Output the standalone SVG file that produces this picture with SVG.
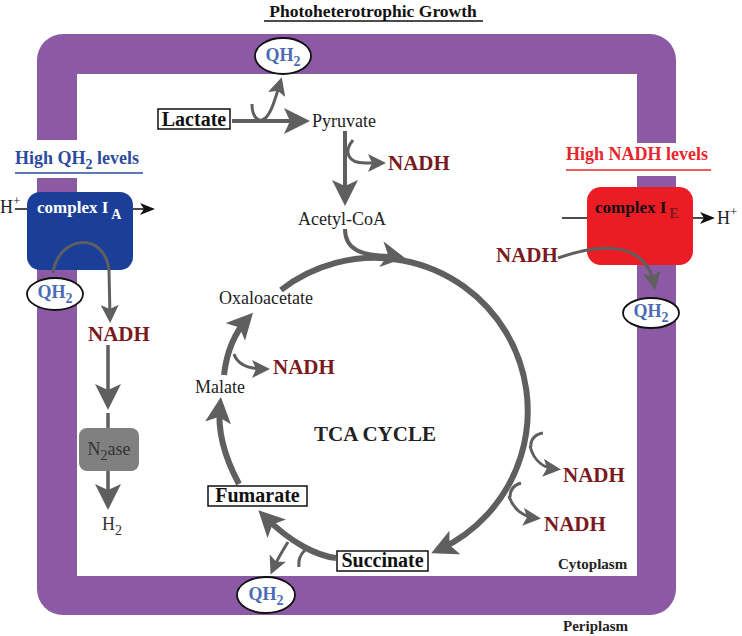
<svg xmlns="http://www.w3.org/2000/svg" width="742" height="636" viewBox="0 0 742 636">
<style>
.t{font-family:"Liberation Serif","Times New Roman",serif}
.b{font-weight:bold}
.nadh{fill:#7a1a1e;font-weight:bold;font-size:21px}
.qh{fill:#4a6cb3;font-weight:bold;font-size:18px}
.met{font-size:18px;fill:#222}
.g{stroke:#5f5f5f;fill:none}
.k{stroke:#111;fill:none;stroke-width:1.5}
.ell{fill:#fff;stroke:#111;stroke-width:1.8}
.box{fill:#fff;stroke:#111;stroke-width:1.5}
</style>
<defs>
<marker id="ah" markerUnits="userSpaceOnUse" markerWidth="26" markerHeight="26" viewBox="0 0 26 26" refX="18" refY="13" orient="auto"><path d="M0,0 L26,13 L0,26 L6,13 Z" fill="#5f5f5f"/></marker>
<marker id="am" markerUnits="userSpaceOnUse" markerWidth="18" markerHeight="18" viewBox="0 0 18 18" refX="12" refY="9" orient="auto"><path d="M0,0 L18,9 L0,18 L4,9 Z" fill="#5f5f5f"/></marker>
<marker id="ak" markerUnits="userSpaceOnUse" markerWidth="15" markerHeight="12" viewBox="0 0 15 12" refX="10" refY="6" orient="auto"><path d="M0,0 L15,6 L0,12 L4,6 Z" fill="#111"/></marker>
</defs>
<rect width="742" height="636" fill="#fff"/>

<g id="membrane">
<path d="M63,34 H650 A26,26 0 0 1 676,60 V589 A26,26 0 0 1 650,615 H63 A26,26 0 0 1 37,589 V60 A26,26 0 0 1 63,34 Z M77,74 V576 H637 V74 Z" fill="#8c5aa5" fill-rule="evenodd"/>
<rect x="35" y="140" width="44" height="38" fill="#fff"/>
<rect x="635" y="143" width="44" height="33" fill="#fff"/>
</g>

<g id="title" class="t b">
<text x="373" y="16.5" text-anchor="middle" font-size="17.5" fill="#111">Photoheterotrophic Growth</text>
<line x1="264" y1="21" x2="483" y2="21" stroke="#111" stroke-width="1.5"/>
</g>

<g id="label-high-qh2" class="t b">
<text x="15" y="164" font-size="18" fill="#2d4b9e">High QH<tspan dy="5" font-size="14">2</tspan><tspan dy="-5"> levels</tspan></text>
<line x1="15" y1="173" x2="143" y2="173" stroke="#2d4b9e" stroke-width="1.5"/>
</g>
<g id="label-high-nadh" class="t b">
<text x="566" y="160" font-size="18" fill="#e8262b">High NADH levels</text>
<line x1="566" y1="170" x2="711" y2="170" stroke="#e8262b" stroke-width="1.5"/>
</g>

<g id="complexIA">
<rect x="27" y="192" width="106" height="78" rx="13" fill="#1b3f99"/>
<text class="t b" x="37" y="213" font-size="17" fill="#fff">complex I<tspan dx="3" dy="6" font-size="14">A</tspan></text>
</g>
<g id="complexIE">
<rect x="587" y="187" width="106" height="78" rx="14" fill="#ec1c24"/>
<text class="t b" x="595" y="213" font-size="17" fill="#111">complex I<tspan dx="3" dy="5" font-size="14" fill="#7a1a1e">E</tspan></text>
</g>
<g id="n2ase">
<rect x="79" y="428" width="60" height="43" rx="8" fill="#808080"/>
<text class="t" x="109" y="455" text-anchor="middle" font-size="18" fill="#333">N<tspan dy="5" font-size="14">2</tspan><tspan dy="-5">ase</tspan></text>
</g>

<g id="connectors">
<path class="k" d="M15,209 L27,209"/>
<path class="k" d="M133,209 L150,209" marker-end="url(#ak)"/>
<path class="k" d="M562,218 L587,218"/>
<path class="k" d="M693,218 L710,218" marker-end="url(#ak)"/>
<path class="g" stroke-width="4" d="M232,121 L302,121" marker-end="url(#ah)"/>
<path class="g" stroke-width="3" d="M252,104 C252,116 257,121 262,120 C270,118 275,100 280,83" marker-end="url(#am)"/>
<path class="g" stroke-width="4" d="M345,131 L345,198" marker-end="url(#ah)"/>
<path class="g" stroke-width="3" d="M353,140 C343,152 348,163 365,163 L380,163" marker-end="url(#am)"/>
<path class="g" stroke-width="4" d="M345,229 C345,250 362,256 390,256"/>
<path class="g" stroke-width="6" d="M281,290 A153,153 0 1 1 438.5,550" marker-end="url(#ah)"/>
<path d="M405,258 L383.4,241.3 L388.2,255.2 L379.2,266.9 Z" fill="#5f5f5f"/>
<path class="g" stroke-width="3" d="M543,433 C535,434 530,440 531,447"/>
<path class="g" stroke-width="3" d="M530,446 C534,462 545,468 555,469" marker-end="url(#am)"/>
<path class="g" stroke-width="3" d="M521,483 C514,485 510,490 510,497"/>
<path class="g" stroke-width="3" d="M509,496 C513,510 525,517 535,518" marker-end="url(#am)"/>
<path class="g" stroke-width="6" d="M336,558 C318,556 292,544 264,516" marker-end="url(#ah)"/>
<path class="g" stroke-width="3" d="M305,550 C300,555 298,561 299,567"/>
<path class="g" stroke-width="3" d="M288,542 C283,550 277,560 273,569" marker-end="url(#am)"/>
<path class="g" stroke-width="6" d="M239,484 C226,460 217,432 220,405" marker-end="url(#ah)"/>
<path class="g" stroke-width="6" d="M224,375 Q228,340 247.6,318.6" marker-end="url(#ah)"/>
<path class="g" stroke-width="3" d="M234,354 C238,366 252,369 264,369" marker-end="url(#am)"/>
<path class="g" stroke-width="3" d="M53,273 C58,236 104,230 109,270 L110,317" marker-end="url(#am)"/>
<path class="g" stroke-width="3.5" d="M108,345 L108,402" marker-end="url(#ah)"/>
<path class="g" stroke-width="3.5" d="M108,413 L108,428"/>
<path class="g" stroke-width="3.5" d="M108,471 L108,502" marker-end="url(#ah)"/>
<path class="g" stroke-width="3" d="M558,258 C595,245 645,238 654,284" marker-end="url(#am)"/>
</g>

<g id="qh2-top"><ellipse class="ell" cx="283" cy="56" rx="28" ry="18"/><text class="t qh" x="283" y="61" text-anchor="middle">QH<tspan dy="5" font-size="14">2</tspan></text></g>
<g id="qh2-left"><ellipse class="ell" cx="55" cy="294" rx="28" ry="16"/><text class="t qh" x="55" y="298" text-anchor="middle">QH<tspan dy="5" font-size="14">2</tspan></text></g>
<g id="qh2-right"><ellipse class="ell" cx="651" cy="313" rx="28" ry="15"/><text class="t qh" x="651" y="317" text-anchor="middle">QH<tspan dy="5" font-size="14">2</tspan></text></g>
<g id="qh2-bottom"><ellipse class="ell" cx="266" cy="595" rx="29" ry="18"/><text class="t qh" x="266" y="600" text-anchor="middle">QH<tspan dy="5" font-size="14">2</tspan></text></g>

<g id="lactate"><rect class="box" x="158" y="109" width="72" height="20"/><text class="t b" x="194" y="126" text-anchor="middle" font-size="20" fill="#111">Lactate</text></g>
<g id="pyruvate"><text class="t met" x="312" y="127">Pyruvate</text></g>
<g id="acetylcoa"><text class="t met" x="342" y="225" text-anchor="middle">Acetyl-CoA</text></g>
<g id="oxaloacetate"><text class="t met" x="219" y="304">Oxaloacetate</text></g>
<g id="malate"><text class="t met" x="195" y="393">Malate</text></g>
<g id="fumarate"><rect class="box" x="208" y="486" width="99" height="20"/><text class="t b" x="257.5" y="502" text-anchor="middle" font-size="20" fill="#111">Fumarate</text></g>
<g id="succinate"><rect class="box" x="337" y="551" width="91" height="20"/><text class="t b" x="382.5" y="567" text-anchor="middle" font-size="20" fill="#111">Succinate</text></g>
<g id="tca"><text class="t b" x="375" y="441" text-anchor="middle" font-size="21" fill="#222">TCA CYCLE</text></g>

<g id="nadh-labels" class="t nadh">
<text x="388" y="170">NADH</text>
<text x="88" y="341">NADH</text>
<text x="273" y="374">NADH</text>
<text x="563" y="482">NADH</text>
<text x="544" y="531">NADH</text>
<text x="496" y="262">NADH</text>
</g>

<g id="protons" class="t" fill="#222">
<text x="0" y="213" font-size="18">H<tspan dy="-8" font-size="13">+</tspan></text>
<text x="717" y="224" font-size="18">H<tspan dy="-8" font-size="13">+</tspan></text>
</g>
<g id="h2"><text class="t" x="102" y="530" font-size="18" fill="#333">H<tspan dy="5" font-size="14">2</tspan></text></g>

<g id="compartments" class="t b" fill="#222" font-size="15">
<text x="558" y="569">Cytoplasm</text>
<text x="563" y="631">Periplasm</text>
</g>
</svg>
